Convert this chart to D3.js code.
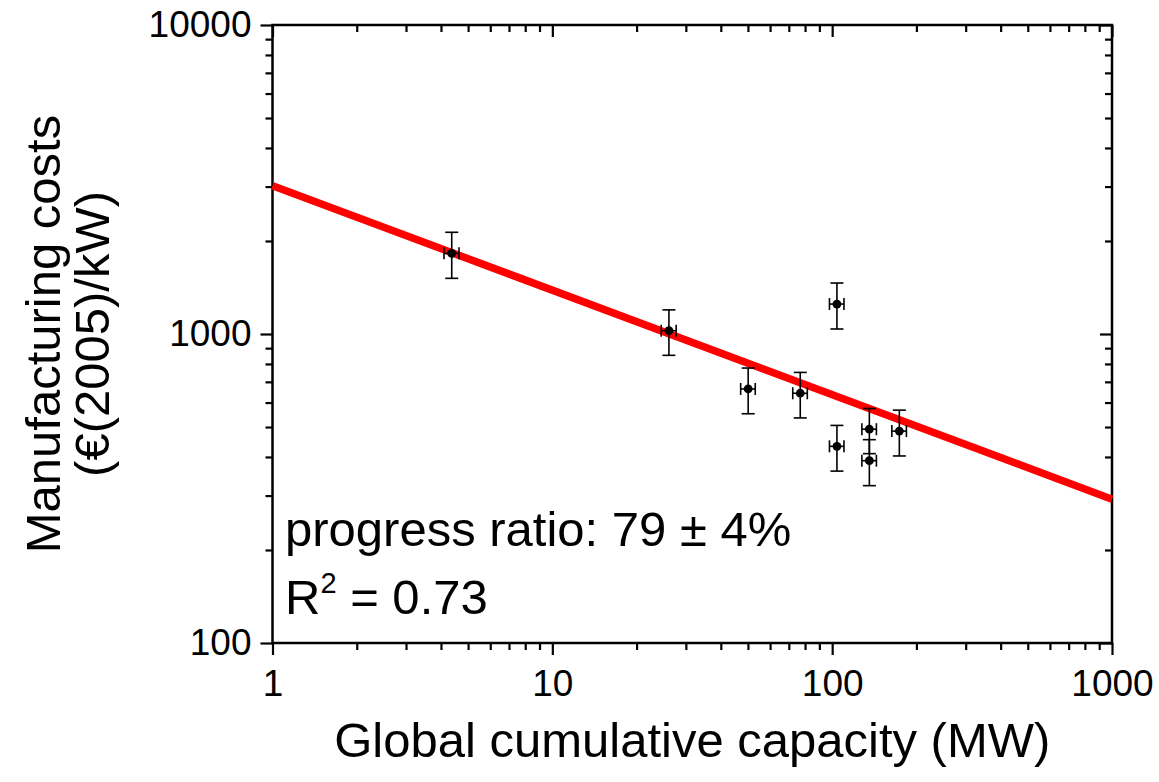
<!DOCTYPE html>
<html><head><meta charset="utf-8">
<script src="https://cdn.jsdelivr.net/npm/d3@7"></script>
<style>body{margin:0;background:#fff}svg{display:block}text{font-family:"Liberation Sans",Arial,sans-serif}</style>
</head><body><svg id="c" width="1159" height="782"></svg>
<script>
// data
const capacity = [4.37, 26.1, 50.1, 76.9, 104, 104, 135.8, 135.8, 173.8];
const cost     = [1824, 1025, 664, 643, 1250, 433, 492, 389, 485];
const capErr   = [0.27, 1.6, 3.0, 4.6, 6.2, 6.2, 8.1, 8.1, 10.4];
const costErr  = [310, 172, 112, 108, 212, 73, 82, 66, 82];
const fitX = [1, 1000];
const fitY = [3020, 292];
const xTicks = [1, 10, 100, 1000];
const yTicks = [100, 1000, 10000];

const svg = d3.select("#c");
const L = 272.5, R = 1112, T = 25, B = 643;
const x = d3.scaleLog().domain([1, 1000]).range([L, R]);
const y = d3.scaleLog().domain([100, 10000]).range([B, T]);

// minor ticks
const minorX = [];
for (let d = 1; d < 1000; d *= 10) for (let k = 2; k <= 9; k++) minorX.push(d * k);
const minorY = [];
for (let d = 100; d < 10000; d *= 10) for (let k = 2; k <= 9; k++) minorY.push(d * k);

const g = svg.append("g");
// bottom axis (outward)
g.append("g").attr("transform", `translate(0,${B})`)
  .call(d3.axisBottom(x).tickValues(xTicks).tickFormat(d3.format("d")).tickSize(12).tickPadding(15))
  .call(a => a.selectAll("text").attr("font-size", 37).attr("font-family", "Liberation Sans"));
g.append("g").attr("transform", `translate(0,${B})`)
  .call(d3.axisBottom(x).tickValues(minorX).tickFormat("").tickSize(7));
// top axis (inward)
g.append("g").attr("transform", `translate(0,${T})`)
  .call(d3.axisBottom(x).tickValues(xTicks).tickFormat("").tickSize(12));
g.append("g").attr("transform", `translate(0,${T})`)
  .call(d3.axisBottom(x).tickValues(minorX).tickFormat("").tickSize(7));
// left axis (outward)
g.append("g").attr("transform", `translate(${L},0)`)
  .call(d3.axisLeft(y).tickValues(yTicks).tickFormat(d3.format("d")).tickSize(12).tickPadding(9))
  .call(a => a.selectAll("text").attr("font-size", 37).attr("font-family", "Liberation Sans"));
g.append("g").attr("transform", `translate(${L},0)`)
  .call(d3.axisLeft(y).tickValues(minorY).tickFormat("").tickSize(7));
// right axis (inward)
g.append("g").attr("transform", `translate(${R},0)`)
  .call(d3.axisLeft(y).tickValues(yTicks).tickFormat("").tickSize(12));
g.append("g").attr("transform", `translate(${R},0)`)
  .call(d3.axisLeft(y).tickValues(minorY).tickFormat("").tickSize(7));
g.selectAll(".domain").remove();
g.selectAll(".tick line").attr("stroke", "#000").attr("stroke-width", 2.2);
g.selectAll(".tick text").attr("fill", "#000");

// frame
svg.append("rect").attr("x", L).attr("y", T).attr("width", R - L).attr("height", B - T)
  .attr("fill", "none").attr("stroke", "#000").attr("stroke-width", 2.5);

// fit line
svg.append("line").attr("x1", x(fitX[0])).attr("y1", y(fitY[0]))
  .attr("x2", x(fitX[1])).attr("y2", y(fitY[1]))
  .attr("stroke", "#ff0000").attr("stroke-width", 7.5);

// error bars
const pts = capacity.map((c, i) => ({c, v: cost[i], ce: capErr[i], ve: costErr[i]}));
const eb = svg.append("g").attr("stroke", "#000").attr("stroke-width", 1.6);
pts.forEach(p => {
  const cx = x(p.c), cy = y(p.v);
  const y1 = y(p.v + p.ve), y2 = y(p.v - p.ve);
  const x1 = x(p.c - p.ce), x2 = x(p.c + p.ce);
  eb.append("line").attr("x1", cx).attr("x2", cx).attr("y1", y1).attr("y2", y2);
  eb.append("line").attr("x1", cx - 6.5).attr("x2", cx + 6.5).attr("y1", y1).attr("y2", y1);
  eb.append("line").attr("x1", cx - 6.5).attr("x2", cx + 6.5).attr("y1", y2).attr("y2", y2);
  eb.append("line").attr("x1", x1).attr("x2", x2).attr("y1", cy).attr("y2", cy);
  eb.append("line").attr("x1", x1).attr("x2", x1).attr("y1", cy - 6).attr("y2", cy + 6);
  eb.append("line").attr("x1", x2).attr("x2", x2).attr("y1", cy - 6).attr("y2", cy + 6);
});
svg.append("g").selectAll("circle").data(pts).join("circle")
  .attr("cx", d => x(d.c)).attr("cy", d => y(d.v)).attr("r", 4.4).attr("fill", "#000");

// annotations
svg.append("text").attr("x", 285).attr("y", 546).attr("font-size", 49).text("progress ratio: 79 ± 4%");
const r2 = svg.append("text").attr("x", 285).attr("y", 614).attr("font-size", 49);
r2.append("tspan").text("R");
r2.append("tspan").attr("dy", -21).attr("font-size", 29).text("2");
r2.append("tspan").attr("dy", 21).text(" = 0.73");

// axis titles
svg.append("text").attr("x", (L + R) / 2).attr("y", 757).attr("text-anchor", "middle").attr("font-size", 49)
  .text("Global cumulative capacity (MW)");
svg.append("text").attr("transform", `translate(60,${(T + B) / 2}) rotate(-90)`).attr("text-anchor", "middle").attr("font-size", 49)
  .text("Manufacturing costs");
svg.append("text").attr("transform", `translate(109,${(T + B) / 2}) rotate(-90)`).attr("text-anchor", "middle").attr("font-size", 49)
  .text("(€(2005)/kW)");
</script></body></html>
